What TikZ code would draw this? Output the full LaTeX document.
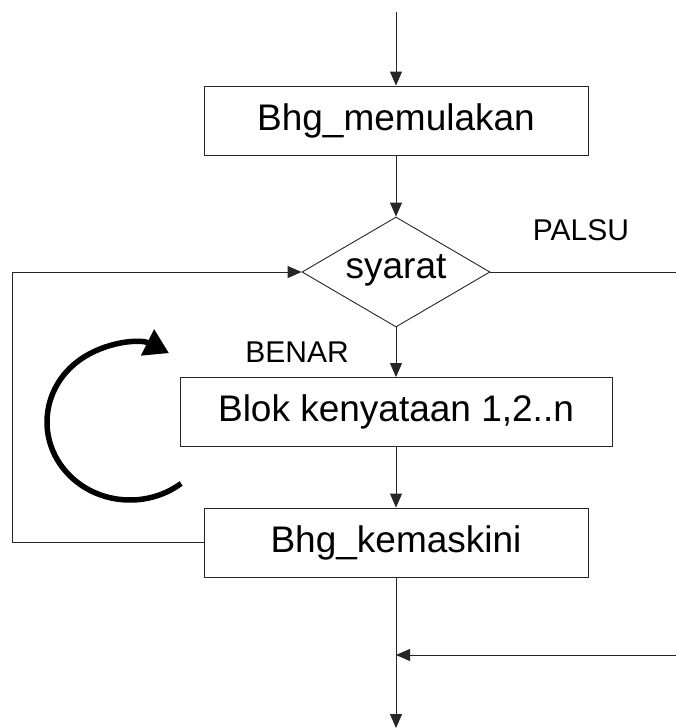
\documentclass[tikz,border=0pt]{standalone}
\usepackage{fontspec}
\setmainfont{Liberation Sans}
\usetikzlibrary{arrows.meta,shapes.geometric}
\begin{document}
\begin{tikzpicture}[x=1pt,y=-1pt,
  flow/.style={draw=black!85,line width=0.9pt},
  arr/.style={flow,-{Triangle[length=14pt,width=12pt]}},
  bigtext/.style={font=\fontsize{37}{40}\selectfont},
  procbox/.style={draw=black!85,line width=0.9pt,minimum height=69pt,inner sep=0pt,bigtext},
  decision/.style={diamond,draw=black!85,line width=0.9pt,minimum width=188pt,minimum height=110pt,aspect=1.7,inner sep=0pt},
  lbl/.style={font=\fontsize{30}{34}\selectfont}]
\useasboundingbox (0,0) rectangle (676,728);
\fill[white] (0,0) rectangle (676,728);

% nodes
\node[procbox,minimum width=384pt] (init) at (396,120.5) {Bhg\_memulakan};
\node[decision] (cond) at (396,272) {};
\node[bigtext] (condtext) at (396,270) {syarat};
\node[procbox,minimum width=432pt] (body) at (396,412) {Blok kenyataan 1,2..n};
\node[procbox,minimum width=384pt] (upd) at (396,542.5) {Bhg\_kemaskini};
\node[lbl] (palsu) at (581,230) {PALSU};
\node[lbl] (benar) at (297,352) {BENAR};

\coordinate (start) at (396,12);
\coordinate (loopbl) at (12,542.5);
\coordinate (looptl) at (12,272);
\coordinate (falseend) at (676,272);
\coordinate (joinin) at (676,655);
\coordinate (join) at (396,655);
\coordinate (finish) at (396,728);

% main flow
\draw[arr] (start) -- (init.north);
\draw[arr] (init.south) -- (cond.north);
\draw[arr] (cond.south) -- (body.north);
\draw[arr] (body.south) -- (upd.north);
\draw[arr] (upd.south) -- (finish);

% loop back to the condition
\draw[arr] (upd.west) -- (loopbl) -- (looptl) -- (cond.west);

% false exit
\draw[flow] (cond.east) -- (falseend);
\draw[arr] (joinin) -- (join);

% repetition symbol
\draw[line width=5.5pt,-{Triangle[length=24pt,width=28pt]}]
  (130,422) ++(-52:83pt and 78pt) arc[start angle=-52,end angle=-298,x radius=83pt,y radius=78pt];
\end{tikzpicture}
\end{document}
